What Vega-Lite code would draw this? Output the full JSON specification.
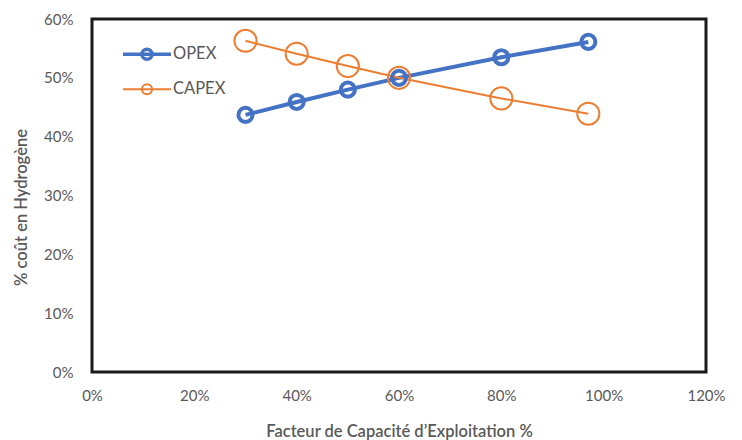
{
  "$schema": "https://vega.github.io/schema/vega-lite/v6.json",
  "width": 614,
  "height": 353,
  "autosize": {"type": "none"},
  "padding": {"left": 92, "top": 19, "right": 36, "bottom": 68},
  "background": "white",
  "config": {
    "view": {"stroke": "#1a1a1a", "strokeWidth": 3},
    "font": "Lato",
    "axis": {
      "grid": false,
      "domain": false,
      "ticks": false,
      "labelColor": "#595959",
      "labelFont": "Lato",
      "labelFontSize": 15,
      "titleColor": "#595959",
      "titleFont": "Lato",
      "titleFontSize": 16.5,
      "titleFontWeight": 600
    }
  },
  "data": {
    "values": [
      {"facteur": 0.30, "pct": 0.437, "serie": "OPEX"},
      {"facteur": 0.40, "pct": 0.459, "serie": "OPEX"},
      {"facteur": 0.50, "pct": 0.480, "serie": "OPEX"},
      {"facteur": 0.60, "pct": 0.500, "serie": "OPEX"},
      {"facteur": 0.80, "pct": 0.535, "serie": "OPEX"},
      {"facteur": 0.97, "pct": 0.561, "serie": "OPEX"},
      {"facteur": 0.30, "pct": 0.563, "serie": "CAPEX"},
      {"facteur": 0.40, "pct": 0.541, "serie": "CAPEX"},
      {"facteur": 0.50, "pct": 0.520, "serie": "CAPEX"},
      {"facteur": 0.60, "pct": 0.500, "serie": "CAPEX"},
      {"facteur": 0.80, "pct": 0.465, "serie": "CAPEX"},
      {"facteur": 0.97, "pct": 0.439, "serie": "CAPEX"}
    ]
  },
  "encoding": {
    "x": {
      "field": "facteur",
      "type": "quantitative",
      "scale": {"domain": [0, 1.2], "nice": false, "zero": false},
      "axis": {
        "values": [0, 0.2, 0.4, 0.6, 0.8, 1.0, 1.2],
        "format": ".0%",
        "labelPadding": 16,
        "labelFlush": false,
        "title": "Facteur de Capacité d’Exploitation %",
        "titleY": 59,
        "titleBaseline": "middle"
      }
    },
    "y": {
      "field": "pct",
      "type": "quantitative",
      "scale": {"domain": [0, 0.6], "nice": false},
      "axis": {
        "values": [0, 0.1, 0.2, 0.3, 0.4, 0.5, 0.6],
        "format": ".0%",
        "labelPadding": 19,
        "labelFlush": false,
        "title": "% coût en Hydrogène",
        "titleX": -71,
        "titleY": 188,
        "titleAngle": -90,
        "titleAlign": "center",
        "titleBaseline": "middle"
      }
    },
    "color": {
      "field": "serie",
      "type": "nominal",
      "scale": {"domain": ["OPEX", "CAPEX"], "range": ["#4472C4", "#ED7D31"]},
      "legend": {
        "title": null,
        "orient": "none",
        "legendX": 31,
        "legendY": 27,
        "symbolType": "M-2,0H2M0.42,0A0.42,0.42,0,1,1,-0.42,0A0.42,0.42,0,1,1,0.42,0",
        "symbolSize": 576,
        "symbolFillColor": "transparent",
        "symbolStrokeWidth": 2,
        "labelFont": "Lato",
        "labelFontSize": 16.5,
        "labelColor": "#595959",
        "rowPadding": 13,
        "encode": {
          "symbols": {
            "update": {
              "x": {"value": 24},
              "size": {"value": 576},
              "strokeWidth": {"signal": "datum.value === 'OPEX' ? 3.5 : 2"},
              "fill": {"value": "transparent"}
            }
          },
          "labels": {
            "update": {
              "x": {"value": 50}
            }
          }
        }
      }
    }
  },
  "layer": [
    {
      "mark": {"type": "line"},
      "encoding": {
        "strokeWidth": {
          "condition": {"test": "datum.serie === 'OPEX'", "value": 4},
          "value": 2
        }
      }
    },
    {
      "mark": {"type": "point", "shape": "circle", "filled": false, "opacity": 1},
      "encoding": {
        "size": {
          "condition": {"test": "datum.serie === 'OPEX'", "value": 200},
          "value": 490
        },
        "strokeWidth": {
          "condition": {"test": "datum.serie === 'OPEX'", "value": 4},
          "value": 2
        }
      }
    }
  ]
}
